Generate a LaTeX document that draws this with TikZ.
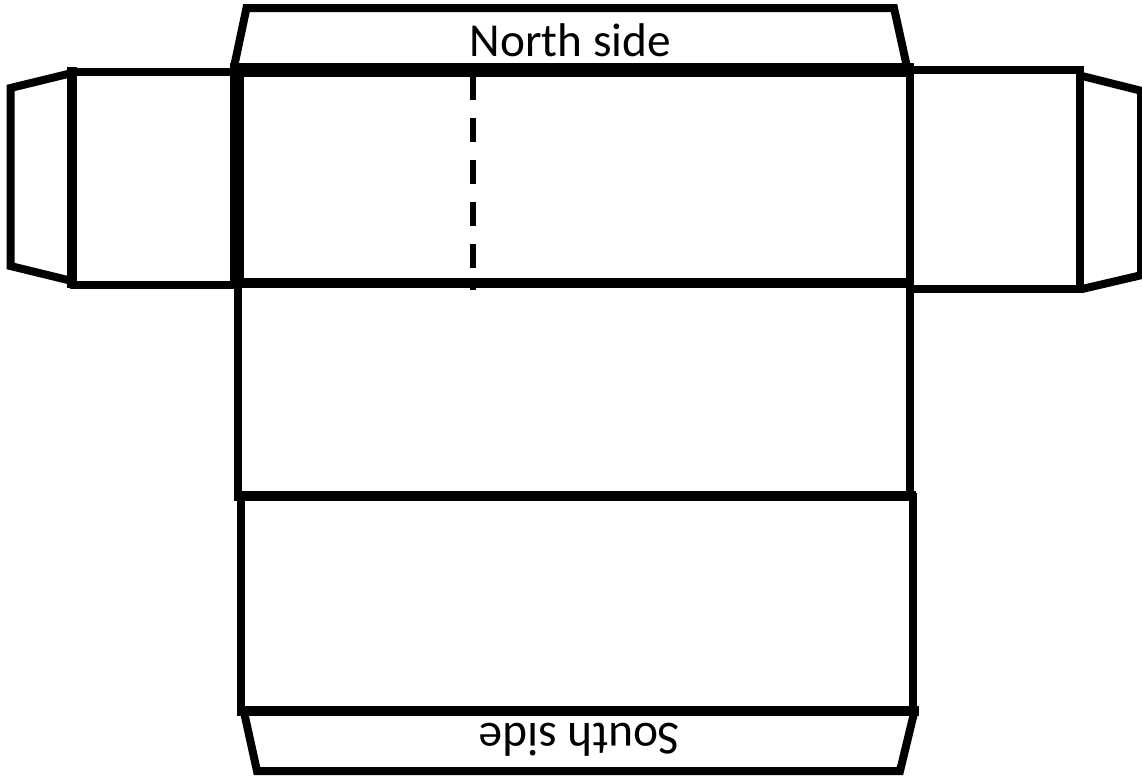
\documentclass[tikz,border=0pt]{standalone}
\usepackage{fontspec}
\setmainfont{Carlito}
\tikzset{
  edge8/.style={draw=black,line width=8pt,line join=miter},
  edge10/.style={draw=black,line width=10pt},
  edge14/.style={draw=black,line width=14pt},
  flap/.style={draw=black,line width=8pt,line join=miter},
  foldline/.style={draw=black,line width=6pt,dash pattern=on 24pt off 18pt},
  label/.style={font=\fontsize{47.3pt}{54pt}\selectfont,inner sep=0pt,text=black}
}
\begin{document}
\begin{tikzpicture}[x=1pt,y=-1pt]
\useasboundingbox (0,0) rectangle (1142,780);
% north flap
\draw[flap] (234,67) -- (246.5,8) -- (894,8) -- (907,67);
% left flaps
\draw[flap] (72,73) -- (10.5,88) -- (10.5,266) -- (72,281);
\draw[flap] (70,72) -- (237,72);
\draw[flap] (70,284.5) -- (237,284.5);
% right flaps
\draw[flap] (910,70) -- (1080,70);
\draw[flap] (910,289) -- (1080,289);
\draw[flap] (1082,76) -- (1142,91);
\draw[flap] (1082,289) -- (1142,275);
\draw[flap] (1141,88) -- (1141,277);
% box verticals
\draw[edge10] (72,67) -- (72,288);
\draw[edge8] (1080,66) -- (1080,293);
\draw[edge14] (237,63) -- (237,288);
\draw[edge8] (910,66) -- (910,288);
% main horizontals
\draw[edge14] (230,69.5) -- (914,69.5);
\draw[edge10] (230,283) -- (914,283);
% fold
\draw[foldline] (473,76) -- (473,290);
% middle
\draw[edge8] (238,288) -- (238,496);
\draw[edge8] (910,288) -- (910,496);
\draw[edge10] (234,495.5) -- (916,495.5);
% lower
\draw[edge8] (240.5,496) -- (240.5,714);
\draw[edge8] (912.5,493) -- (912.5,711);
\draw[edge10] (237,711) -- (919,711);
% south flap
\draw[flap] (244,712) -- (257,771) -- (900,771) -- (914.5,711);
\node[label,anchor=base] (north) at (570.5,56) {North side};
\node[label,anchor=base,rotate=180] (south) at (579.5,723.5) {South side};
\end{tikzpicture}
\end{document}
